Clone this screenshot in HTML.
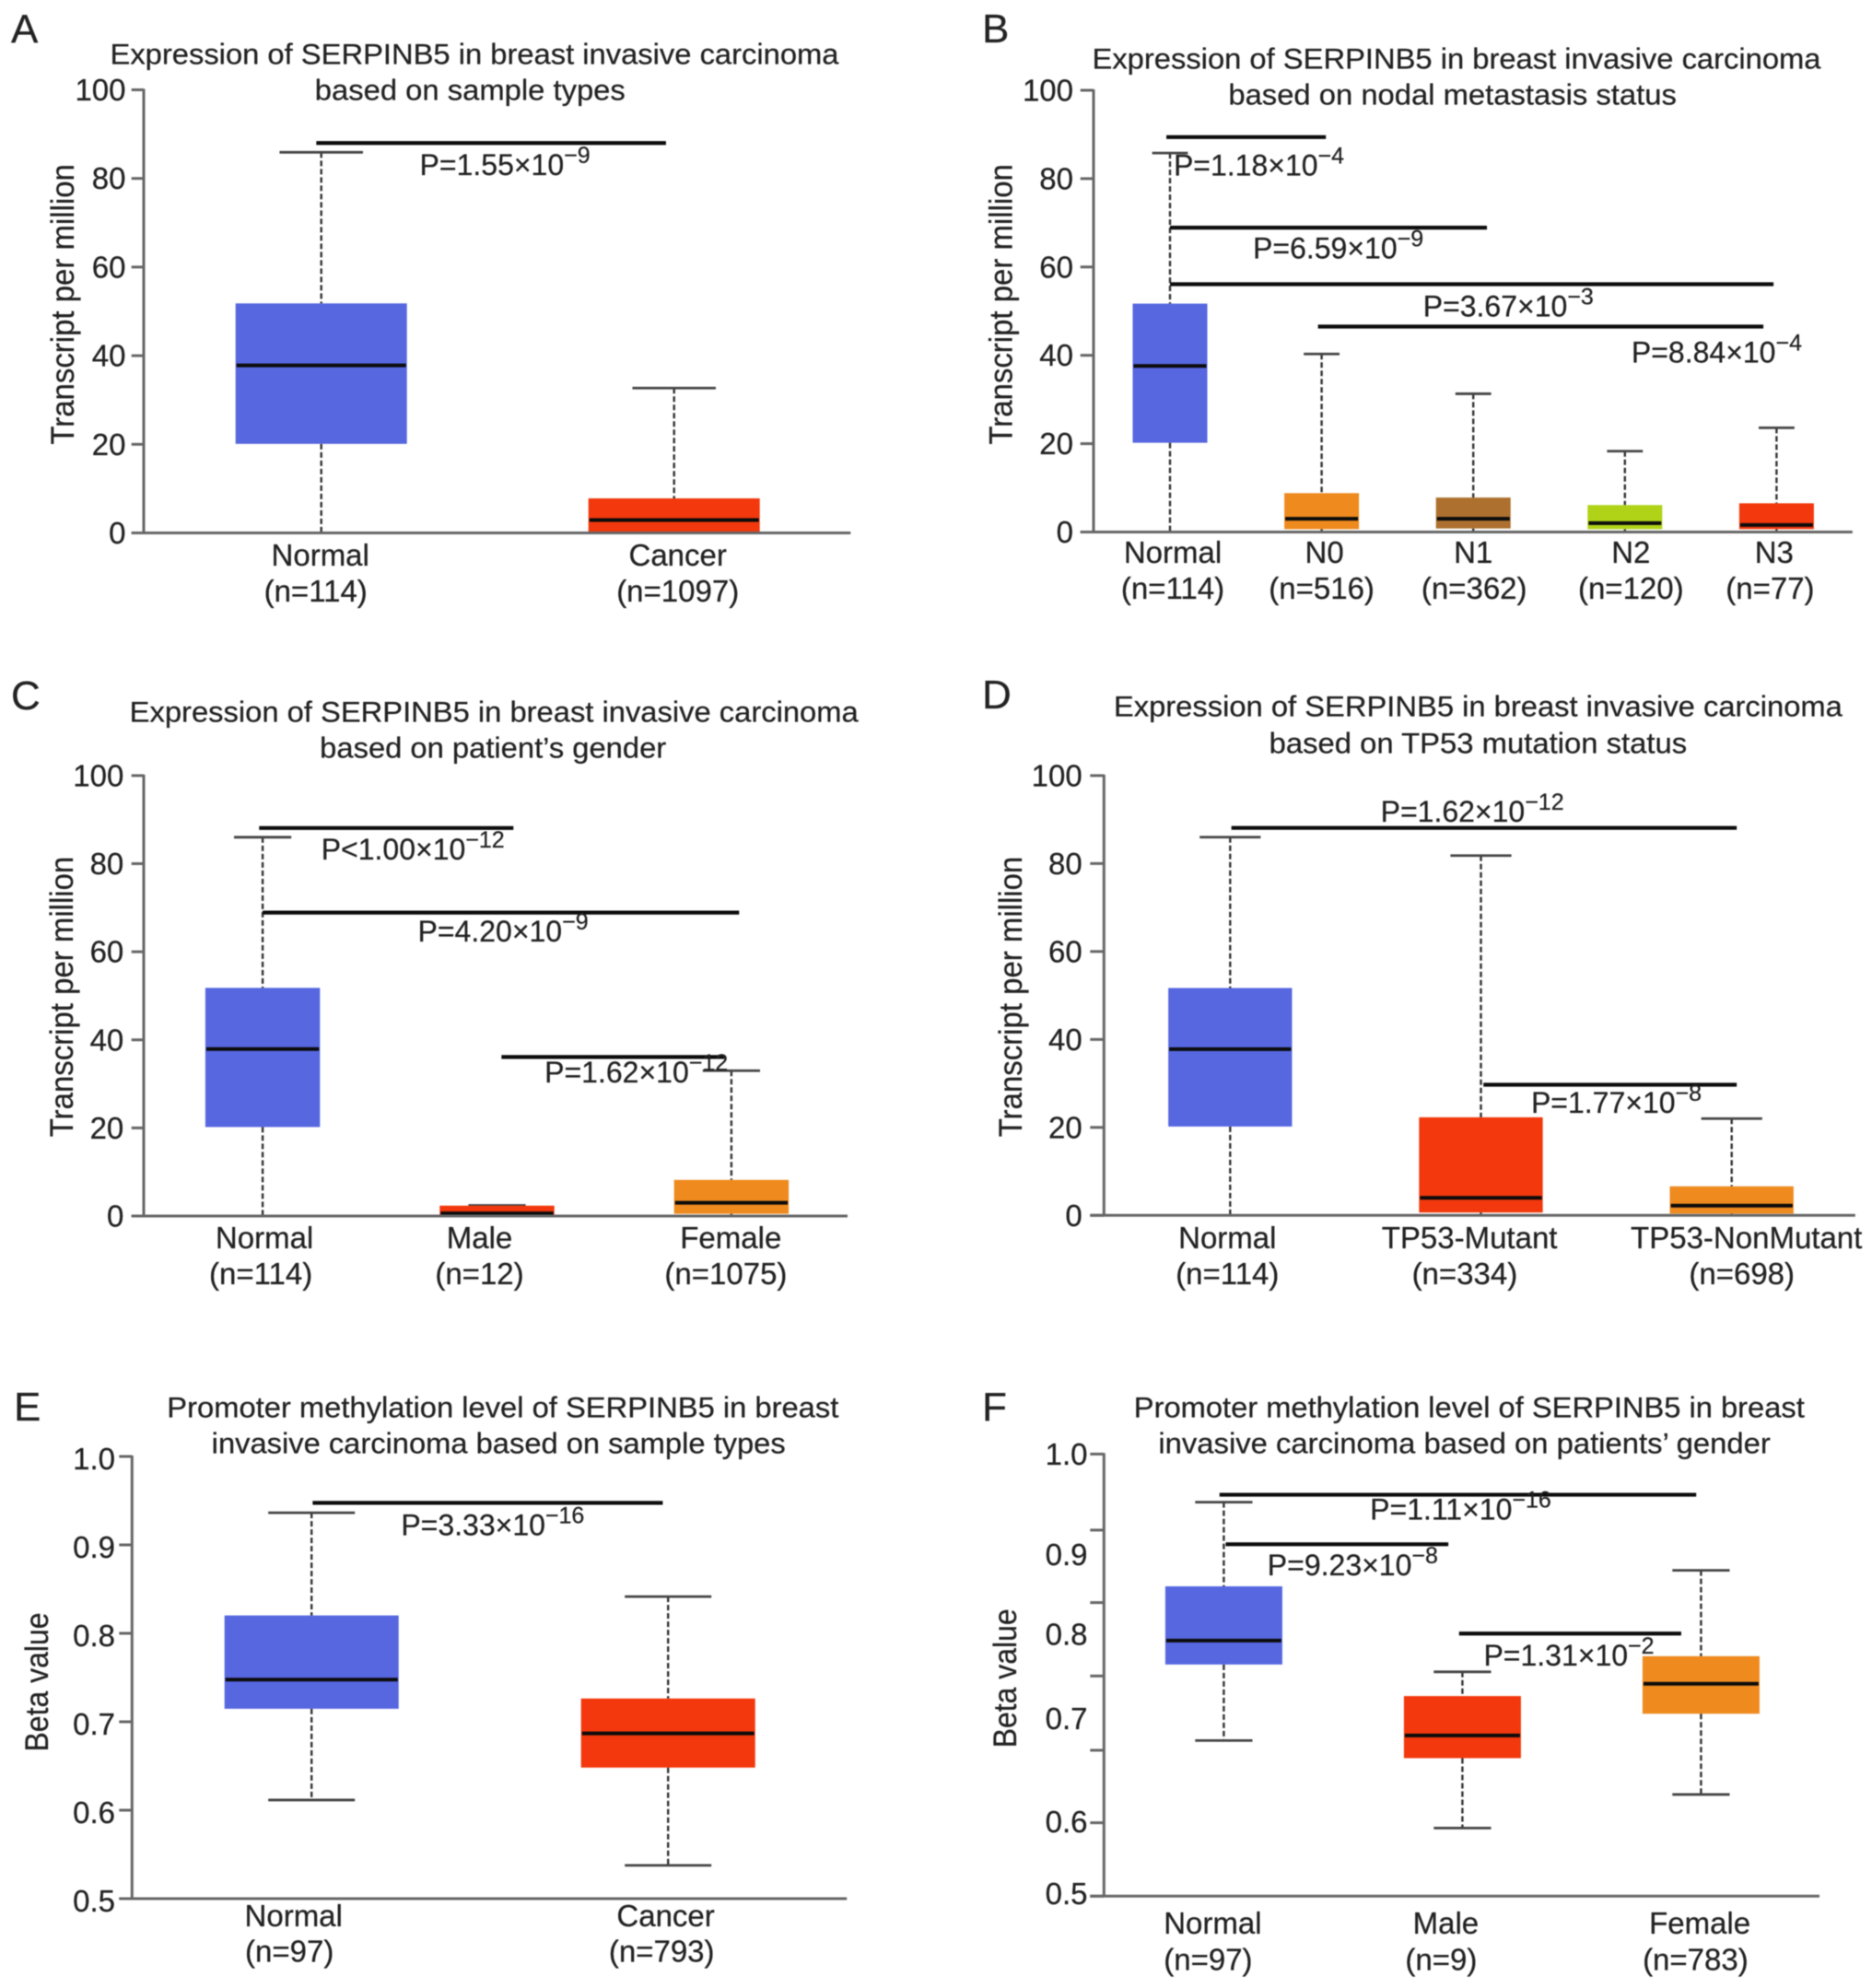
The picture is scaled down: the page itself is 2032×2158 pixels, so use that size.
<!DOCTYPE html>
<html lang="en">
<head>
<meta charset="utf-8">
<title>SERPINB5 expression and promoter methylation in breast invasive carcinoma</title>
<style>
html,body{margin:0;padding:0;background:#fff;}
svg{display:block;filter:blur(0.6px);}
text{font-family:"Liberation Sans",sans-serif;fill:#222;stroke:#222;stroke-width:0.25px;}
.title{font-size:31.5px;text-anchor:middle;}
.letter{font-size:44px;}
.ytitle{font-size:35px;text-anchor:middle;}
</style>
</head>
<body>
<svg id="figure" xmlns="http://www.w3.org/2000/svg" width="2032" height="2158" viewBox="0 0 2032 2158">
  <rect x="0" y="0" width="2032" height="2158" fill="#fff"/>

  <g id="panel-a">
    <text class="letter" x="12" y="46.5">A</text>
    <text class="title" x="515" y="69.7" textLength="791" lengthAdjust="spacingAndGlyphs">Expression of SERPINB5 in breast invasive carcinoma</text>
    <text class="title" x="510.3" y="108.5" textLength="337" lengthAdjust="spacingAndGlyphs">based on sample types</text>
    <text class="ytitle" transform="translate(80,330.4) rotate(-90)" textLength="304.5" lengthAdjust="spacingAndGlyphs">Transcript per million</text>
  </g>

  <g id="panel-b">
    <text class="letter" x="1066" y="45.8">B</text>
    <text class="title" x="1581" y="74.6" textLength="791" lengthAdjust="spacingAndGlyphs">Expression of SERPINB5 in breast invasive carcinoma</text>
    <text class="title" x="1576.6" y="113.4" textLength="486.5" lengthAdjust="spacingAndGlyphs">based on nodal metastasis status</text>
    <text class="ytitle" transform="translate(1098.5,330.4) rotate(-90)" textLength="304.5" lengthAdjust="spacingAndGlyphs">Transcript per million</text>
  </g>

  <g id="panel-c">
    <text class="letter" x="12" y="770">C</text>
    <text class="title" x="536.2" y="783.7" textLength="791" lengthAdjust="spacingAndGlyphs">Expression of SERPINB5 in breast invasive carcinoma</text>
    <text class="title" x="535.2" y="822.5" textLength="376" lengthAdjust="spacingAndGlyphs">based on patient’s gender</text>
    <text class="ytitle" transform="translate(79,1082) rotate(-90)" textLength="304.5" lengthAdjust="spacingAndGlyphs">Transcript per million</text>
  </g>

  <g id="panel-d">
    <text class="letter" x="1066" y="769">D</text>
    <text class="title" x="1604.4" y="777.7" textLength="791" lengthAdjust="spacingAndGlyphs">Expression of SERPINB5 in breast invasive carcinoma</text>
    <text class="title" x="1604.4" y="817.5" textLength="453.6" lengthAdjust="spacingAndGlyphs">based on TP53 mutation status</text>
    <text class="ytitle" transform="translate(1109,1082) rotate(-90)" textLength="304.5" lengthAdjust="spacingAndGlyphs">Transcript per million</text>
  </g>

  <g id="panel-e">
    <text class="letter" x="15" y="1542">E</text>
    <text class="title" x="545.8" y="1538.6" textLength="729" lengthAdjust="spacingAndGlyphs">Promoter methylation level of SERPINB5 in breast</text>
    <text class="title" x="541.2" y="1577.4" textLength="623" lengthAdjust="spacingAndGlyphs">invasive carcinoma based on sample types</text>
    <text class="ytitle" transform="translate(52,1826) rotate(-90)" textLength="151" lengthAdjust="spacingAndGlyphs">Beta value</text>
  </g>

  <g id="panel-f">
    <text class="letter" x="1066" y="1542">F</text>
    <text class="title" x="1594.8" y="1538.6" textLength="728" lengthAdjust="spacingAndGlyphs">Promoter methylation level of SERPINB5 in breast</text>
    <text class="title" x="1589.6" y="1577.4" textLength="664.5" lengthAdjust="spacingAndGlyphs">invasive carcinoma based on patients’ gender</text>
    <text class="ytitle" transform="translate(1103,1821.8) rotate(-90)" textLength="151" lengthAdjust="spacingAndGlyphs">Beta value</text>
  </g>
</svg>

<script>
// ---------- shared axis data ----------
const expressionTicks = [0, 20, 40, 60, 80, 100];
const expressionTickLabels = ['0', '20', '40', '60', '80', '100'];
const methylationTicks = [0.5, 0.6, 0.7, 0.8, 0.9, 1.0];
const methylationTickLabels = ['0.5', '0.6', '0.7', '0.8', '0.9', '1.0'];

// ---------- panel A ----------
const panelACategories = ['Normal', 'Cancer'];
const panelACounts = ['114', '1097'];
const panelAWhiskerHigh = [85.9, 32.7];
const panelAQ3 = [51.8, 7.8];
const panelAMedian = [37.8, 2.9];
const panelAQ1 = [20.1, 0.2];
const panelAWhiskerLow = [0, 0];
const panelASigLevels = [88.0];
const panelASigFrom = [-0.014];
const panelASigTo = [0.977];
const panelAPRelations = ['='];
const panelAPValues = ['1.55'];
const panelAPExponents = ['9'];
const panelAPCategoryAt = [0.279];
const panelAPLevelAt = [80.8];

// ---------- panel B ----------
const panelBCategories = ['Normal', 'N0', 'N1', 'N2', 'N3'];
const panelBCounts = ['114', '516', '362', '120', '77'];
const panelBWhiskerHigh = [85.8, 40.3, 31.3, 18.3, 23.6];
const panelBQ3 = [51.7, 8.8, 7.8, 6.1, 6.5];
const panelBMedian = [37.6, 3.0, 3.0, 2.0, 1.6];
const panelBQ1 = [20.2, 0.65, 0.8, 0.65, 0.65];
const panelBWhiskerLow = [0, 0, 0, 0, 0];
const panelBSigLevels = [89.4, 68.9, 56.1, 46.5];
const panelBSigFrom = [-0.024, 0, 0, 0.976];
const panelBSigTo = [1.028, 2.09, 3.98, 3.913];
const panelBPRelations = ['=', '=', '=', '='];
const panelBPValues = ['1.18', '6.59', '3.67', '8.84'];
const panelBPExponents = ['4', '9', '3', '4'];
const panelBPCategoryAt = [0.024, 0.547, 1.669, 3.043];
const panelBPLevelAt = [80.7, 61.9, 48.8, 38.4];

// ---------- panel C ----------
const panelCCategories = ['Normal', 'Male', 'Female'];
const panelCCounts = ['114', '12', '1075'];
const panelCWhiskerHigh = [86, 2.4, 33];
const panelCQ3 = [51.8, 2.35, 8.2];
const panelCMedian = [37.9, 0.6, 3.0];
const panelCQ1 = [20.2, 0.1, 0.5];
const panelCWhiskerLow = [0, 0, 0];
const panelCSigLevels = [88.1, 68.9, 36.1];
const panelCSigFrom = [-0.015, 0, 1.019];
const panelCSigTo = [1.07, 2.033, 1.969];
const panelCPRelations = ['<', '=', '='];
const panelCPValues = ['1.00', '4.20', '1.62'];
const panelCPExponents = ['12', '9', '12'];
const panelCPCategoryAt = [0.25, 0.662, 1.203];
const panelCPLevelAt = [80.9, 62.3, 30.3];

// ---------- panel D ----------
const panelDCategories = ['Normal', 'TP53-Mutant', 'TP53-NonMutant'];
const panelDCounts = ['114', '334', '698'];
const panelDWhiskerHigh = [86, 81.8, 22];
const panelDQ3 = [51.7, 22.3, 6.6];
const panelDMedian = [37.8, 4.0, 2.2];
const panelDQ1 = [20.2, 0.65, 0.4];
const panelDWhiskerLow = [0, 0, 0];
const panelDSigLevels = [88.1, 29.7];
const panelDSigFrom = [0.005, 1.01];
const panelDSigTo = [2.02, 2.02];
const panelDPRelations = ['=', '='];
const panelDPValues = ['1.62', '1.77'];
const panelDPExponents = ['12', '8'];
const panelDPCategoryAt = [0.6, 1.2];
const panelDPLevelAt = [89.5, 23.3];

// ---------- panel E ----------
const panelECategories = ['Normal', 'Cancer'];
const panelECounts = ['97', '793'];
const panelEWhiskerHigh = [0.9363, 0.8415];
const panelEQ3 = [0.8202, 0.7263];
const panelEMedian = [0.7477, 0.6868];
const panelEQ1 = [0.7147, 0.6482];
const panelEWhiskerLow = [0.6115, 0.5376];
const panelESigLevels = [0.9475];
const panelESigFrom = [0.003];
const panelESigTo = [0.985];
const panelEPRelations = ['='];
const panelEPValues = ['3.33'];
const panelEPExponents = ['16'];
const panelEPCategoryAt = [0.251];
const panelEPLevelAt = [0.9108];

// ---------- panel F ----------
const panelFCategories = ['Normal', 'Male', 'Female'];
const panelFCounts = ['97', '9', '783'];
const panelFWhiskerHigh = [0.9456, 0.7537, 0.8685];
const panelFQ3 = [0.8504, 0.7263, 0.7714];
const panelFMedian = [0.789, 0.6817, 0.7402];
const panelFQ1 = [0.762, 0.6561, 0.7063];
const panelFWhiskerLow = [0.676, 0.577, 0.615];
const panelFSigLevels = [0.954, 0.898, 0.797];
const panelFSigFrom = [-0.018, 0.008, 0.986];
const panelFSigTo = [1.98, 0.941, 1.917];
const panelFPRelations = ['=', '=', '='];
const panelFPValues = ['1.11', '9.23', '1.31'];
const panelFPExponents = ['16', '8', '2'];
const panelFPCategoryAt = [0.613, 0.183, 1.089];
const panelFPLevelAt = [0.9257, 0.8629, 0.7607];
const panelFTickMarks = [1.0, 0.914, 0.832, 0.749, 0.665, 0.583, 0.5];
const panelFTickLabels = ['1.0', '0.9', '0.8', '0.7', '0.6', '0.5'];
const panelFTickLabelAt = [1.0, 0.8865, 0.796, 0.701, 0.584, 0.503];

// ---------- colours ----------
const BLUE = '#5667e0', RED = '#f2380c', ORANGE = '#ee8a1e', BROWN = '#ad702f', LIME = '#b0d318';

// ---------- panel wiring (frame geometry kept apart from the data) ----------
const panels = [
  { id: 'panel-a', categories: panelACategories, counts: panelACounts, hi: panelAWhiskerHigh, q3: panelAQ3, med: panelAMedian, q1: panelAQ1, lo: panelAWhiskerLow,
    sigLevels: panelASigLevels, sigFrom: panelASigFrom, sigTo: panelASigTo, pRel: panelAPRelations, pVal: panelAPValues, pExp: panelAPExponents, pCat: panelAPCategoryAt, pLevel: panelAPLevelAt,
    tickMarks: expressionTicks, tickLabels: expressionTickLabels, tickLabelAt: expressionTicks,
    yMin: 0, yMax: 100, frame: { axisX: 156, yTop: 97.5, yBottom: 578.5, xEnd: 923.3, tickLeft: 142.7, tickRight: 136.5, tickDy: 11.5, x0: 348.7, step: 383, boxW: 186, capW: 90.5, label1Y: 614, label2Y: 652.8, nudge1: [-1, 4], nudge2: [-6, 4] },
    colors: [BLUE, RED] },
  { id: 'panel-b', categories: panelBCategories, counts: panelBCounts, hi: panelBWhiskerHigh, q3: panelBQ3, med: panelBMedian, q1: panelBQ1, lo: panelBWhiskerLow,
    sigLevels: panelBSigLevels, sigFrom: panelBSigFrom, sigTo: panelBSigTo, pRel: panelBPRelations, pVal: panelBPValues, pExp: panelBPExponents, pCat: panelBPCategoryAt, pLevel: panelBPLevelAt,
    tickMarks: expressionTicks, tickLabels: expressionTickLabels, tickLabelAt: expressionTicks,
    yMin: 0, yMax: 100, frame: { axisX: 1187, yTop: 98, yBottom: 577.5, xEnd: 2010.8, tickLeft: 1172.7, tickRight: 1165, tickDy: 11.5, x0: 1270, step: 164.6, boxW: 81, capW: 38.8, label1Y: 611, label2Y: 650, nudge1: [3, 3, 0, 6.5, -2.6], nudge2: [3, 0, 1, 6.5, -7] },
    colors: [BLUE, ORANGE, BROWN, LIME, RED] },
  { id: 'panel-c', categories: panelCCategories, counts: panelCCounts, hi: panelCWhiskerHigh, q3: panelCQ3, med: panelCMedian, q1: panelCQ1, lo: panelCWhiskerLow,
    sigLevels: panelCSigLevels, sigFrom: panelCSigFrom, sigTo: panelCSigTo, pRel: panelCPRelations, pVal: panelCPValues, pExp: panelCPExponents, pCat: panelCPCategoryAt, pLevel: panelCPLevelAt,
    tickMarks: expressionTicks, tickLabels: expressionTickLabels, tickLabelAt: expressionTicks,
    yMin: 0, yMax: 100, frame: { axisX: 156, yTop: 841.9, yBottom: 1320, xEnd: 920, tickLeft: 142.7, tickRight: 134.3, tickDy: 11.5, x0: 285.1, step: 254.4, boxW: 124.4, capW: 62.2, label1Y: 1354.9, label2Y: 1394.2, nudge1: [2, -19, -0.6], nudge2: [-2, -19, -6] },
    colors: [BLUE, RED, ORANGE] },
  { id: 'panel-d', categories: panelDCategories, counts: panelDCounts, hi: panelDWhiskerHigh, q3: panelDQ3, med: panelDMedian, q1: panelDQ1, lo: panelDWhiskerLow,
    sigLevels: panelDSigLevels, sigFrom: panelDSigFrom, sigTo: panelDSigTo, pRel: panelDPRelations, pVal: panelDPValues, pExp: panelDPExponents, pCat: panelDPCategoryAt, pLevel: panelDPLevelAt,
    tickMarks: expressionTicks, tickLabels: expressionTickLabels, tickLabelAt: expressionTicks,
    yMin: 0, yMax: 100, frame: { axisX: 1198.3, yTop: 841.9, yBottom: 1319.3, xEnd: 2013.8, tickLeft: 1183.3, tickRight: 1174.7, tickDy: 11.5, x0: 1335.3, step: 272.2, boxW: 134.3, capW: 66.2, label1Y: 1354.9, label2Y: 1394.2, nudge1: [-3, -12.4, 16], nudge2: [-3, -17.6, 11] },
    colors: [BLUE, RED, ORANGE] },
  { id: 'panel-e', categories: panelECategories, counts: panelECounts, hi: panelEWhiskerHigh, q3: panelEQ3, med: panelEMedian, q1: panelEQ1, lo: panelEWhiskerLow,
    sigLevels: panelESigLevels, sigFrom: panelESigFrom, sigTo: panelESigTo, pRel: panelEPRelations, pVal: panelEPValues, pExp: panelEPExponents, pCat: panelEPCategoryAt, pLevel: panelEPLevelAt,
    tickMarks: methylationTicks, tickLabels: methylationTickLabels, tickLabelAt: methylationTicks,
    yMin: 0.5, yMax: 1.0, frame: { axisX: 143.3, yTop: 1581, yBottom: 2061, xEnd: 919.2, tickLeft: 129.3, tickRight: 125, tickDy: 14, x0: 338.2, step: 387, boxW: 189, capW: 94, label1Y: 2090.9, label2Y: 2129.7, nudge1: [-19.5, -2.6], nudge2: [-24, -7] },
    colors: [BLUE, RED] },
  { id: 'panel-f', categories: panelFCategories, counts: panelFCounts, hi: panelFWhiskerHigh, q3: panelFQ3, med: panelFMedian, q1: panelFQ1, lo: panelFWhiskerLow,
    sigLevels: panelFSigLevels, sigFrom: panelFSigFrom, sigTo: panelFSigTo, pRel: panelFPRelations, pVal: panelFPValues, pExp: panelFPExponents, pCat: panelFPCategoryAt, pLevel: panelFPLevelAt,
    tickMarks: panelFTickMarks, tickLabels: panelFTickLabels, tickLabelAt: panelFTickLabelAt,
    yMin: 0.5, yMax: 1.0, frame: { axisX: 1198.3, yTop: 1578.4, yBottom: 2058.3, xEnd: 1975, tickLeft: 1183.3, tickRight: 1180.5, tickDy: 11.5, x0: 1328.4, step: 259, boxW: 127, capW: 62.2, label1Y: 2098.9, label2Y: 2138.6, nudge1: [-12, -18, -1.3], nudge2: [-17, -23, -6] },
    colors: [BLUE, RED, ORANGE] }
];

const NS = 'http://www.w3.org/2000/svg';

function make(tag, attrs, parent) {
  const el = document.createElementNS(NS, tag);
  for (const key in attrs) el.setAttribute(key, attrs[key]);
  parent.appendChild(el);
  return el;
}

function drawPanel(p) {
  const root = document.getElementById(p.id);
  const f = p.frame;
  const xScale = function (c) { return f.x0 + c * f.step; };
  const yScale = function (v) { return f.yBottom - (v - p.yMin) / (p.yMax - p.yMin) * (f.yBottom - f.yTop); };

  // boxes and whiskers
  p.categories.forEach(function (cat, i) {
    const cx = xScale(i);

    const group = make('g', {}, root);
    
    

    const whiskerUp = make('line', { x1: cx, x2: cx, y1: yScale(p.hi[i]), y2: yScale(p.q3[i]), stroke: '#333', 'stroke-width': 2.4, 'stroke-dasharray': '6 3' }, group);
    
    

    const whiskerDown = make('line', { x1: cx, x2: cx, y1: yScale(p.q1[i]), y2: yScale(p.lo[i]), stroke: '#333', 'stroke-width': 2.4, 'stroke-dasharray': '6 3' }, group);
    
    

    const capHigh = make('line', { x1: cx - f.capW / 2, x2: cx + f.capW / 2, y1: yScale(p.hi[i]), y2: yScale(p.hi[i]), stroke: '#444', 'stroke-width': 2.8 }, group);
    
    

    if (p.yMin > 0) {
      const capLow = make('line', { x1: cx - f.capW / 2, x2: cx + f.capW / 2, y1: yScale(p.lo[i]), y2: yScale(p.lo[i]), stroke: '#444', 'stroke-width': 2.8 }, group);
      
      
    }

    const box = make('rect', { x: cx - f.boxW / 2, y: yScale(p.q3[i]), width: f.boxW, height: yScale(p.q1[i]) - yScale(p.q3[i]), fill: p.colors[i] }, group);
    
    

    const median = make('line', { x1: cx - f.boxW / 2 + 1, x2: cx + f.boxW / 2 - 1, y1: yScale(p.med[i]), y2: yScale(p.med[i]), stroke: '#0c0c0c', 'stroke-width': 4 }, group);
    
    

    const label = make('text', { x: cx + f.nudge1[i], y: f.label1Y, 'text-anchor': 'middle', 'font-size': 33 }, root);
    label.textContent = cat;
    
    

    const count = make('text', { x: cx + f.nudge2[i], y: f.label2Y, 'text-anchor': 'middle', 'font-size': 33 }, root);
    count.textContent = '(n=' + p.counts[i] + ')';
    
    
  });

  // axes
  const yAxis = make('line', { x1: f.axisX, x2: f.axisX, y1: f.yTop - 1, y2: f.yBottom, stroke: '#666', 'stroke-width': 3 }, root);
  
  

  const xAxis = make('line', { x1: f.tickLeft, x2: f.xEnd, y1: f.yBottom, y2: f.yBottom, stroke: '#666', 'stroke-width': 3 }, root);
  
  

  p.tickMarks.forEach(function (v) {
    const tick = make('line', { x1: f.tickLeft, x2: f.axisX, y1: yScale(v), y2: yScale(v), stroke: '#666', 'stroke-width': 3 }, root);
    
    
  });

  p.tickLabels.forEach(function (txt, i) {
    const tl = make('text', { x: f.tickRight, y: yScale(p.tickLabelAt[i]) + f.tickDy, 'text-anchor': 'end', 'font-size': 33 }, root);
    tl.textContent = txt;
    
    
  });

  // significance bars
  p.sigLevels.forEach(function (level, i) {
    const bar = make('line', { x1: xScale(p.sigFrom[i]), x2: xScale(p.sigTo[i]), y1: yScale(level), y2: yScale(level), stroke: '#0c0c0c', 'stroke-width': 4.2 }, root);
    
    

    const pText = make('text', { x: xScale(p.pCat[i]), y: yScale(p.pLevel[i]), 'font-size': 32 }, root);
    
    
    pText.appendChild(document.createTextNode('P' + p.pRel[i] + p.pVal[i] + '×10'));
    const sup = make('tspan', { dy: -13, 'font-size': 25 }, pText);
    sup.textContent = '−' + p.pExp[i];
  });
}

panels.forEach(drawPanel);
</script>
</body>
</html>
